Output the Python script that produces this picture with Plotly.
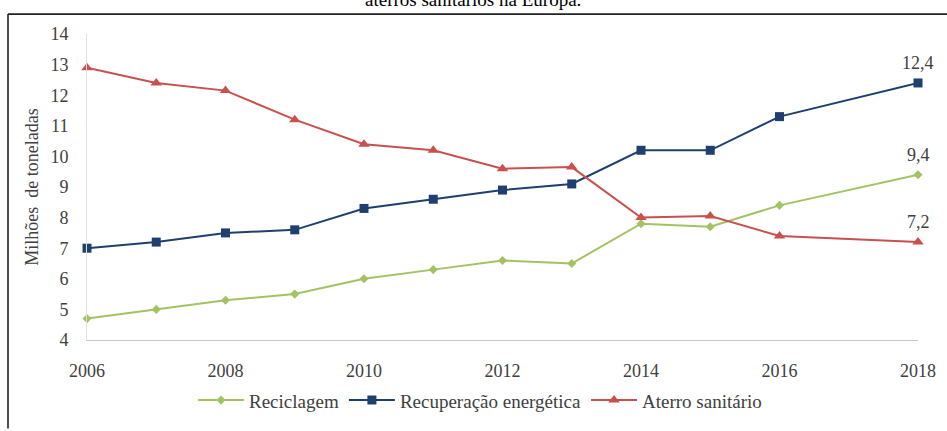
import plotly.graph_objects as go

# Waste treatment in Europe (million tonnes), 2006-2018
anos = [2006, 2007, 2008, 2009, 2010, 2011, 2012, 2013, 2014, 2015, 2016, 2018]
reciclagem = [4.7, 5.0, 5.3, 5.5, 6.0, 6.3, 6.6, 6.5, 7.8, 7.7, 8.4, 9.4]
recuperacao = [7.0, 7.2, 7.5, 7.6, 8.3, 8.6, 8.9, 9.1, 10.2, 10.2, 11.3, 12.4]
aterro = [12.9, 12.4, 12.15, 11.2, 10.4, 10.2, 9.6, 9.65, 8.0, 8.05, 7.4, 7.2]

nomes = ["Reciclagem", "Recuperação energética", "Aterro sanitário"]
cores = ["#A4C263", "#1F3F6E", "#C8504E"]
simbolos = ["diamond", "square", "triangle-up"]
tamanhos = [7, 9, 10]
series = [reciclagem, recuperacao, aterro]

FONT = "Times New Roman, Liberation Serif, serif"
W, H = 947, 431
ML, MR, MT, MB = 87, 29, 34, 82


def px_to_paper_x(px):
    return (px - ML) / (W - ML - MR)


def px_to_paper_y(py):
    return (H - MB - py) / (H - MT - MB)


fig = go.Figure()
for nome, vals, cor, simb, tam in zip(nomes, series, cores, simbolos, tamanhos):
    fig.add_trace(go.Scatter(
        x=anos, y=vals, name=nome, mode="lines+markers",
        line=dict(color=cor, width=2),
        marker=dict(symbol=simb, size=tam, color=cor),
        cliponaxis=False,
    ))

# value labels at the last year
for vals in series:
    fig.add_annotation(
        x=anos[-1], y=vals[-1], text=f"{vals[-1]:.1f}".replace(".", ","),
        showarrow=False, yanchor="bottom", yshift=8,
        font=dict(family=FONT, size=18, color="#404040"),
    )

# caption line above the framed chart
fig.add_annotation(
    xref="paper", yref="paper", x=px_to_paper_x(473), y=px_to_paper_y(11),
    text="aterros sanitários na Europa.", showarrow=False,
    xanchor="center", yanchor="bottom",
    font=dict(family=FONT, size=19, color="#000000"),
)

# frame around the chart (left and top edges)
fx0, fy0 = px_to_paper_x(8), px_to_paper_y(13.5)
fig.add_shape(type="line", xref="paper", yref="paper",
              x0=fx0, x1=px_to_paper_x(960), y0=fy0, y1=fy0,
              line=dict(color="#222222", width=1.6))
fig.add_shape(type="line", xref="paper", yref="paper",
              x0=fx0, x1=fx0, y0=fy0, y1=px_to_paper_y(440),
              line=dict(color="#222222", width=1.6))

fig.update_layout(
    width=W, height=H,
    margin=dict(l=ML, r=MR, t=MT, b=MB),
    paper_bgcolor="white", plot_bgcolor="white",
    font=dict(family=FONT, size=18, color="#404040"),
    showlegend=True,
    legend=dict(
        orientation="h", x=px_to_paper_x(480), xanchor="center",
        y=px_to_paper_y(411), yanchor="middle",
        font=dict(family=FONT, size=19, color="#404040"),
        itemwidth=46,
    ),
    xaxis=dict(
        range=[2006, 2018], tickmode="array",
        tickvals=[2006, 2008, 2010, 2012, 2014, 2016, 2018],
        showgrid=False, zeroline=False,
        showline=True, linecolor="#c8c8c8", linewidth=1,
        ticks="", ticklabelstandoff=14,
    ),
    yaxis=dict(
        range=[4, 14], dtick=1, showgrid=False, zeroline=False,
        showline=True, linecolor="#e0e0e0", linewidth=1,
        ticks="", ticklabelstandoff=14,
        title=dict(text="Milhões  de toneladas", standoff=7,
                   font=dict(family=FONT, size=18, color="#404040")),
    ),
)

fig.write_html("out.html")
